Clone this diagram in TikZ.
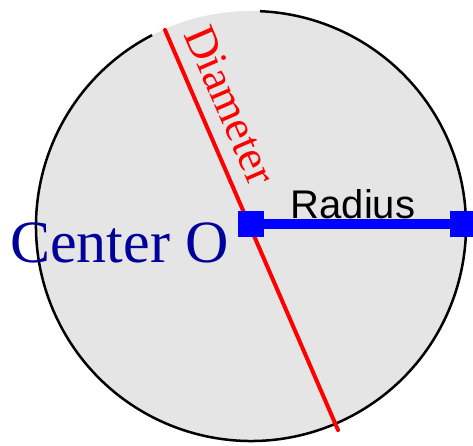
\documentclass[tikz,border=0pt]{standalone}
\usepackage{fontspec}
\setmainfont{Liberation Serif}
\setsansfont{Liberation Sans}
\usetikzlibrary{positioning}
\definecolor{discgray}{RGB}{229,229,229}
\definecolor{navy}{RGB}{0,0,155}

\begin{document}
\begin{tikzpicture}[
    x=1pt, y=1pt,
    rim/.style={line width=2.5pt, black},
    diam/.style={line width=4pt, red, line cap=round},
    rad/.style={line width=10pt, blue},
    endpt/.style={rectangle, fill=blue, minimum size=26pt, inner sep=0pt},
    lbl/.style={inner sep=0pt}
  ]
  \useasboundingbox (0,0) rectangle (473,445);
  % disc
  \coordinate (c) at (251,219);
  \fill[discgray] (c) circle[radius=215];
  \draw[rim] (c) ++(117.4:215) arc[start angle=117.4, end angle=447.6, radius=215];
  % diameter
  \coordinate (dtop) at (165,415);
  \coordinate (dbot) at (338,15);
  \draw[diam] (dtop) -- (dbot);
  \node[lbl, rotate=-66.6, anchor=base, text=red,
        font=\fontsize{45}{45}\selectfont] (dlbl) at (217,334) {Diameter};
  % radius
  \node[endpt] (O) at (251,221) {};
  \node[endpt, right=186pt of O] (R) {};
  \draw[rad] (O) -- (R);
  \node[lbl, anchor=base, font=\sffamily\fontsize{40}{40}\selectfont] (rlbl) at (353,227) {Radius};
  % center label
  \node[lbl, anchor=base west, text=navy,
        font=\fontsize{60}{60}\selectfont] (clbl) at (10,183) {Center O};
\end{tikzpicture}
\end{document}
